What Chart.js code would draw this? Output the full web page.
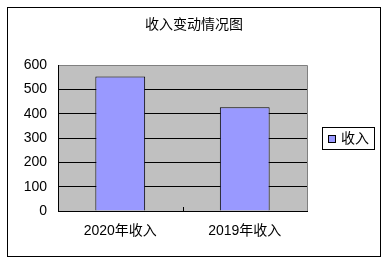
<!DOCTYPE html>
<html><head><meta charset="utf-8">
<script src="https://cdn.jsdelivr.net/npm/chart.js@4/dist/chart.umd.min.js"></script>
<style>html,body{margin:0;padding:0;background:#fff;}#wrap{width:388px;height:264px;position:relative;}</style>
</head><body><div id="wrap"><canvas id="c" width="388" height="264"></canvas></div>
<script>
const chartTitle = '收入变动情况图';
const categories = ['2020年收入', '2019年收入'];
const seriesName = '收入';
const incomeValues = [553, 426];
const yTicks = [0, 100, 200, 300, 400, 500, 600];

const FONT = "'Liberation Sans', Arial, 'Noto Sans CJK SC', sans-serif";

const decor = {
  id: 'decor',
  beforeDraw(chart) {
    const {ctx, chartArea: a} = chart;
    ctx.save();
    ctx.fillStyle = '#fff';
    ctx.fillRect(0, 0, chart.width, chart.height);
    ctx.fillStyle = '#C0C0C0';
    ctx.fillRect(a.left, a.top, a.right - a.left, a.bottom - a.top);
    ctx.restore();
  },
  afterDraw(chart) {
    const {ctx, chartArea: a} = chart;
    const xs = chart.scales.x;
    ctx.save();
    ctx.lineWidth = 1;
    // plot frame top/right
    ctx.strokeStyle = '#808080';
    ctx.beginPath();
    ctx.moveTo(a.left, Math.round(a.top) + 0.5);
    ctx.lineTo(Math.round(a.right) + 0.5, Math.round(a.top) + 0.5);
    ctx.lineTo(Math.round(a.right) + 0.5, a.bottom);
    ctx.stroke();
    // axes
    ctx.strokeStyle = '#000';
    ctx.beginPath();
    ctx.moveTo(Math.round(a.left) + 0.5, a.top);
    ctx.lineTo(Math.round(a.left) + 0.5, Math.round(a.bottom) + 0.5);
    ctx.lineTo(a.right + 1, Math.round(a.bottom) + 0.5);
    ctx.stroke();
    // category divider tick
    for (let i = 0; i < categories.length - 1; i++) {
      const x = Math.round((xs.getPixelForValue(i) + xs.getPixelForValue(i + 1)) / 2) + 0.5;
      ctx.beginPath();
      ctx.moveTo(x, a.bottom - 4);
      ctx.lineTo(x, a.bottom);
      ctx.stroke();
    }
    // outer border
    ctx.strokeRect(7.5, 7.5, 373, 249);
    // title
    ctx.fillStyle = '#000';
    ctx.font = "14px " + FONT;
    ctx.textBaseline = 'middle';
    ctx.textAlign = 'center';
    ctx.fillText(chartTitle, 194, 25);
    // legend
    const ds = chart.data.datasets[0];
    ctx.strokeRect(322.5, 127.5, 52, 22);
    ctx.fillStyle = ds.backgroundColor;
    ctx.fillRect(328, 135, 8, 8);
    ctx.strokeRect(328.5, 135.5, 7, 7);
    ctx.fillStyle = '#000';
    ctx.textAlign = 'left';
    ctx.fillText(ds.label, 341, 139);
    ctx.restore();
  }
};

new Chart(document.getElementById('c'), {
  type: 'bar',
  data: {
    labels: categories,
    datasets: [{
      label: seriesName,
      data: incomeValues,
      backgroundColor: '#9999FF',
      borderColor: '#000',
      borderWidth: 1,
      categoryPercentage: 1,
      barPercentage: 0.4
    }]
  },
  options: {
    responsive: false,
    animation: false,
    devicePixelRatio: 1,
    layout: { padding: { left: 10, right: 81, top: 65, bottom: 0 } },
    plugins: {
      legend: { display: false },
      tooltip: { enabled: false },
      title: { display: false }
    },
    scales: {
      x: {
        grid: { display: false, drawTicks: false },
        border: { display: false },
        ticks: { color: '#000', font: { family: FONT, size: 14 }, padding: 12, maxRotation: 0 },
        afterFit(s) { s.height = 53; }
      },
      y: {
        min: 0, max: 600,
        afterBuildTicks(s) { s.ticks = yTicks.map(v => ({ value: v })); },
        grid: { color: '#000', drawTicks: false, lineWidth: 1 },
        border: { display: false },
        ticks: { color: '#000', font: { family: FONT, size: 14 }, padding: 11 },
        afterFit(s) { s.width = 48; }
      }
    }
  },
  plugins: [decor]
});
</script>
</body></html>
